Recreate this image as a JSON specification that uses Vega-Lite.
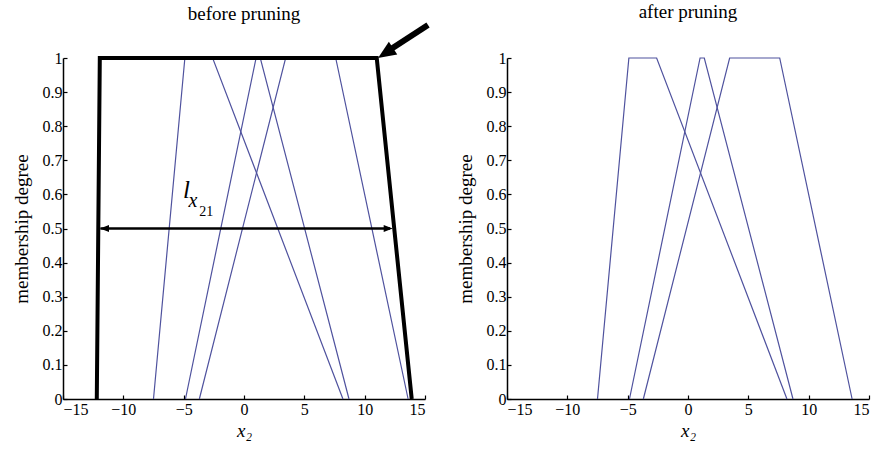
{
  "$schema": "https://vega.github.io/schema/vega-lite/v6.json",
  "padding": {"left": 12, "top": 3, "right": 2, "bottom": 2},
  "background": "white",
  "config": {
    "view": {"stroke": null},
    "font": "Liberation Serif",
    "title": {"font": "Liberation Serif", "fontSize": 19, "fontWeight": "normal", "color": "black"},
    "axis": {
      "grid": false,
      "domainColor": "black",
      "domainWidth": 1.5,
      "tickColor": "black",
      "tickWidth": 1.2,
      "tickSize": -4,
      "labelFont": "Liberation Serif",
      "labelFontSize": 16,
      "labelColor": "black",
      "titleFont": "Liberation Serif",
      "titleFontSize": 19,
      "titleFontWeight": "normal",
      "titleColor": "black"
    }
  },
  "datasets": {
    "blue": [
      {"shape": "A", "o": 1, "x": -7.5, "y": 0},
      {"shape": "A", "o": 2, "x": -4.9, "y": 1},
      {"shape": "A", "o": 3, "x": -2.6, "y": 1},
      {"shape": "A", "o": 4, "x": 8.2, "y": 0},
      {"shape": "B", "o": 1, "x": -4.85, "y": 0},
      {"shape": "B", "o": 2, "x": 1.0, "y": 1},
      {"shape": "B", "o": 3, "x": 1.35, "y": 1},
      {"shape": "B", "o": 4, "x": 8.7, "y": 0},
      {"shape": "C", "o": 1, "x": -3.7, "y": 0},
      {"shape": "C", "o": 2, "x": 3.45, "y": 1},
      {"shape": "C", "o": 3, "x": 7.6, "y": 1},
      {"shape": "C", "o": 4, "x": 13.6, "y": 0}
    ],
    "pruned": [
      {"o": 1, "x": -12.2, "y": 0},
      {"o": 2, "x": -11.95, "y": 1},
      {"o": 3, "x": 11.0, "y": 1},
      {"o": 4, "x": 13.9, "y": 0}
    ]
  },
  "hconcat": [
    {
      "width": 362,
      "height": 341,
      "title": {"text": "before pruning", "offset": -2},
      "encoding": {
        "x": {"field": "x", "type": "quantitative", "scale": {"domain": [-15, 15], "nice": false, "zero": false},
              "axis": {"values": [-15, -10, -5, 0, 5, 10, 15], "labelExpr": "replace(datum.label, '-', '\u2212')", "title": "x\u2082", "titleFontStyle": "italic", "labelPadding": 6, "titlePadding": 4, "labelFont": "Liberation Serif", "labelFontSize": 16, "titleFont": "Liberation Serif", "titleFontSize": 19}},
        "y": {"field": "y", "type": "quantitative", "scale": {"domain": [0, 1], "nice": false},
              "axis": {"values": [0, 0.1, 0.2, 0.3, 0.4, 0.5, 0.6, 0.7, 0.8, 0.9, 1], "format": "~g", "title": "membership degree", "labelPadding": 5, "titlePadding": 11, "labelFont": "Liberation Serif", "labelFontSize": 16, "titleFont": "Liberation Serif", "titleFontSize": 19}}
      },
      "layer": [
        {
          "data": {"name": "blue"},
          "mark": {"type": "line", "color": "#4f529e", "strokeWidth": 1.2},
          "encoding": {
            "detail": {"field": "shape"},
            "order": {"field": "o"}
          }
        },
        {
          "data": {"name": "pruned"},
          "mark": {"type": "line", "color": "black", "strokeWidth": 4},
          "encoding": {
            "order": {"field": "o"}
          }
        },
        {
          "data": {"values": [{"x": -11.9, "x2": 12.1, "y": 0.5}]},
          "mark": {"type": "rule", "color": "black", "strokeWidth": 2.5},
          "encoding": {
            "x2": {"field": "x2"}
          }
        },
        {
          "data": {"values": [{"x": -11.56, "y": 0.5}]},
          "mark": {"type": "point", "shape": "M0,-1L0.8,1L-0.8,1Z", "size": 81, "filled": true, "color": "black", "opacity": 1, "angle": 270},
          "encoding": {}
        },
        {
          "data": {"values": [{"x": 11.95, "y": 0.5}]},
          "mark": {"type": "point", "shape": "M0,-1L0.8,1L-0.8,1Z", "size": 81, "filled": true, "color": "black", "opacity": 1, "angle": 90},
          "encoding": {}
        },
        {
          "data": {"values": [{"x": 15.25, "y": 1.097, "x2": 11.9, "y2": 1.02}]},
          "mark": {"type": "rule", "color": "black", "strokeWidth": 6},
          "encoding": {
            "x2": {"field": "x2"},
            "y2": {"field": "y2"}
          }
        },
        {
          "data": {"values": [{"x": 11.73, "y": 1.0147}]},
          "mark": {"type": "point", "shape": "M0,-1L0.85,1L-0.85,1Z", "size": 324, "filled": true, "color": "black", "opacity": 1, "angle": 236.6},
          "encoding": {}
        },
        {
          "data": {"values": [{"x": -5.06, "y": 0.59, "t": "l"}]},
          "mark": {"type": "text", "align": "left", "baseline": "alphabetic", "fontSize": 25, "fontStyle": "italic", "font": "Liberation Serif", "color": "black"},
          "encoding": {
            "text": {"field": "t"}
          }
        },
        {
          "data": {"values": [{"x": -4.6, "y": 0.564, "t": "x"}]},
          "mark": {"type": "text", "align": "left", "baseline": "alphabetic", "fontSize": 20, "fontStyle": "italic", "font": "Liberation Serif", "color": "black"},
          "encoding": {
            "text": {"field": "t"}
          }
        },
        {
          "data": {"values": [{"x": -3.7, "y": 0.538, "t": "21"}]},
          "mark": {"type": "text", "align": "left", "baseline": "alphabetic", "fontSize": 14, "font": "Liberation Serif", "color": "black"},
          "encoding": {
            "text": {"field": "t"}
          }
        }
      ]
    },
    {
      "width": 362,
      "height": 341,
      "title": {"text": "after pruning", "offset": 28},
      "data": {"name": "blue"},
      "mark": {"type": "line", "color": "#4f529e", "strokeWidth": 1.2},
      "encoding": {
        "x": {"field": "x", "type": "quantitative", "scale": {"domain": [-15, 15], "nice": false, "zero": false},
              "axis": {"values": [-15, -10, -5, 0, 5, 10, 15], "labelExpr": "replace(datum.label, '-', '\u2212')", "title": "x\u2082", "titleFontStyle": "italic", "labelPadding": 6, "titlePadding": 4, "labelFont": "Liberation Serif", "labelFontSize": 16, "titleFont": "Liberation Serif", "titleFontSize": 19}},
        "y": {"field": "y", "type": "quantitative", "scale": {"domain": [0, 1], "nice": false},
              "axis": {"values": [0, 0.1, 0.2, 0.3, 0.4, 0.5, 0.6, 0.7, 0.8, 0.9, 1], "format": "~g", "title": "membership degree", "labelPadding": 5, "titlePadding": 11, "labelFont": "Liberation Serif", "labelFontSize": 16, "titleFont": "Liberation Serif", "titleFontSize": 19}},
        "detail": {"field": "shape"},
        "order": {"field": "o"}
      }
    }
  ],
  "spacing": 82,
  "bounds": "flush"
}
